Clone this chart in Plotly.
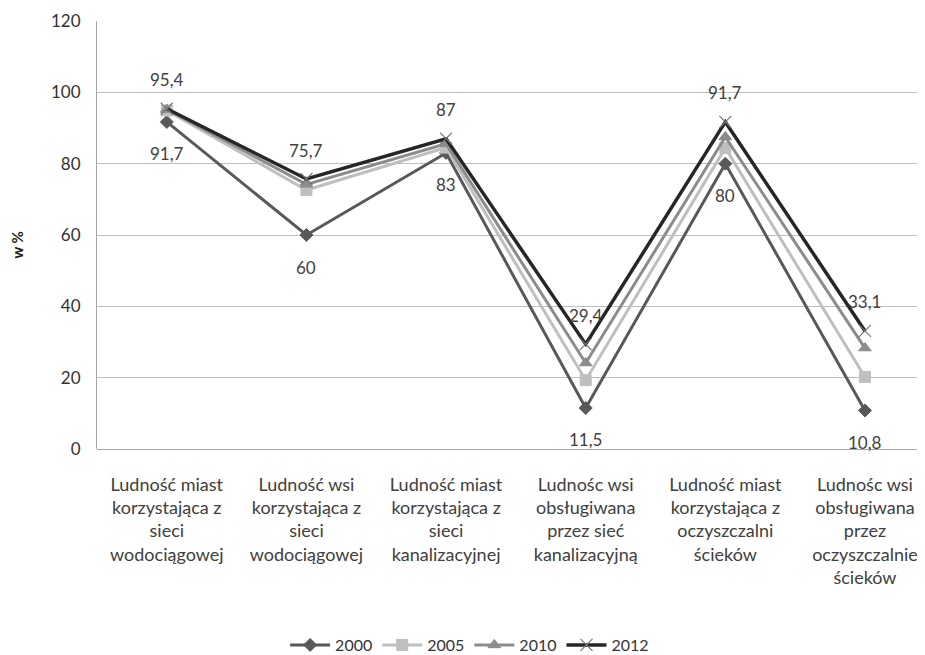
import plotly.graph_objects as go

categories = [
    "Ludność miast<br>korzystająca z<br>sieci<br>wodociągowej",
    "Ludność wsi<br>korzystająca z<br>sieci<br>wodociągowej",
    "Ludność miast<br>korzystająca z<br>sieci<br>kanalizacyjnej",
    "Ludnośc wsi<br>obsługiwana<br>przez sieć<br>kanalizacyjną",
    "Ludność miast<br>korzystająca z<br>oczyszczalni<br>ścieków",
    "Ludnośc wsi<br>obsługiwana<br>przez<br>oczyszczalnie<br>ścieków",
]
years = ["2000", "2005", "2010", "2012"]
v2000 = [91.7, 60, 83, 11.5, 80, 10.8]
v2005 = [94.9, 72.6, 84.5, 19.3, 84.4, 20.2]
v2010 = [95.2, 74.2, 85.6, 24.1, 87.5, 28.3]
v2012 = [95.4, 75.7, 87, 29.4, 91.7, 33.1]
series = [v2000, v2005, v2010, v2012]

colors = ["#595959", "#BFBFBF", "#8C8C8C", "#262626"]
symbols = ["diamond", "square", "triangle-up", "x-thin"]
sizes = [10, 11, 11, 12]
widths = [3, 3, 3, 3.5]

xs = list(range(len(categories)))
fig = go.Figure()
for name, vals, c, s, sz, w in zip(years, series, colors, symbols, sizes, widths):
    mline = dict(color=("#777777" if s == "x-thin" else c), width=(1.2 if s == "x-thin" else 1))
    fig.add_trace(go.Scatter(
        x=xs, y=vals, name=name, mode="lines+markers",
        line=dict(color=c, width=w),
        marker=dict(symbol=s, size=sz, color=c, line=mline),
    ))

def fmt(v):
    return str(v).replace(".", ",")

for i, v in enumerate(v2000):
    fig.add_annotation(x=xs[i], y=v, text=fmt(v), showarrow=False, yshift=-32,
                       font=dict(size=17, color="#404040", family="Lato"))
for i, v in enumerate(v2012):
    fig.add_annotation(x=xs[i], y=v, text=fmt(v), showarrow=False, yshift=29,
                       font=dict(size=17, color="#404040", family="Lato"))

fig.add_annotation(xref="paper", yref="paper", x=-0.11, y=0.477, text="<b>w %</b>",
                   textangle=-90, showarrow=False, font=dict(size=15, color="#222222", family="Lato"))

fig.update_layout(
    width=917, height=647,
    margin=dict(l=89, r=0, t=13, b=206, autoexpand=False),
    paper_bgcolor="white", plot_bgcolor="white",
    font=dict(family="Lato", color="#333333"),
    showlegend=True,
    legend=dict(orientation="h", x=0.45, xanchor="center", y=-0.458, yanchor="middle",
                font=dict(size=16, color="#333333"), itemwidth=40, traceorder="normal"),
)
fig.update_xaxes(
    tickmode="array", tickvals=xs, ticktext=categories, automargin=False,
    range=[-0.5, 5.43], showgrid=False, zeroline=False,
    showline=False, ticks="outside", ticklen=19, tickcolor="rgba(0,0,0,0)",
    tickfont=dict(size=18, color="#404040", family="Lato"), tickangle=0,
)
fig.update_yaxes(
    range=[0, 120], dtick=20, showgrid=True, gridcolor="#BFBFBF", gridwidth=1.2,
    zeroline=True, zerolinecolor="#A6A6A6", zerolinewidth=1.2, automargin=False,
    showline=True, linecolor="#A6A6A6", linewidth=1.2,
    ticks="outside", ticklen=12, tickcolor="rgba(0,0,0,0)",
    tickfont=dict(size=17, color="#333333", family="Lato"),
)
fig.write_html("out.html")
